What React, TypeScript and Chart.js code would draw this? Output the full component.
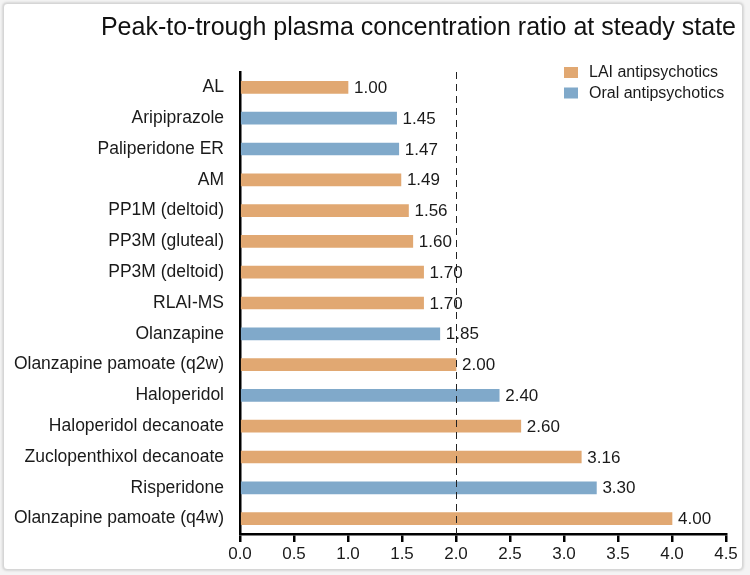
import React, { useEffect, useRef } from "react";
import { Chart, registerables } from "chart.js";

Chart.register(...registerables);

const TITLE = "Peak-to-trough plasma concentration ratio at steady state";
const categories = [
  "AL",
  "Aripiprazole",
  "Paliperidone ER",
  "AM",
  "PP1M (deltoid)",
  "PP3M (gluteal)",
  "PP3M (deltoid)",
  "RLAI-MS",
  "Olanzapine",
  "Olanzapine pamoate (q2w)",
  "Haloperidol",
  "Haloperidol decanoate",
  "Zuclopenthixol decanoate",
  "Risperidone",
  "Olanzapine pamoate (q4w)",
];
const values = [1.0, 1.45, 1.47, 1.49, 1.56, 1.6, 1.7, 1.7, 1.85, 2.0, 2.4, 2.6, 3.16, 3.3, 4.0];
const types = ["LAI", "Oral", "Oral", "LAI", "LAI", "LAI", "LAI", "LAI", "Oral", "LAI", "Oral", "LAI", "LAI", "Oral", "LAI"];
const seriesNames = ["LAI antipsychotics", "Oral antipsychotics"];
const seriesKeys = ["LAI", "Oral"];
const xTicks = [0, 0.5, 1, 1.5, 2, 2.5, 3, 3.5, 4, 4.5];
const referenceLine = 2.0;

const COLORS = ["#E1A872", "#80A9CA"];
const FONT = "'Liberation Sans', Arial, sans-serif";

export default function App() {
  const ref = useRef<HTMLCanvasElement | null>(null);

  useEffect(() => {
    document.body.style.margin = "0";
    const canvas = ref.current;
    if (!canvas) return;

    const overlay = {
      id: "overlay",
      afterDatasetsDraw(chart: any) {
        const ctx = chart.ctx;
        const xs = chart.scales.x;
        const ys = chart.scales.y;
        const area = chart.chartArea;
        ctx.save();
        // reference dashed line
        const xr = xs.getPixelForValue(referenceLine);
        ctx.strokeStyle = "#222";
        ctx.lineWidth = 1;
        ctx.setLineDash([7, 5]);
        ctx.beginPath();
        ctx.moveTo(Math.round(xr) + 0.5, area.top);
        ctx.lineTo(Math.round(xr) + 0.5, area.bottom);
        ctx.stroke();
        ctx.setLineDash([]);
        // value labels
        ctx.fillStyle = "#1a1a1a";
        ctx.font = `17px ${FONT}`;
        ctx.textAlign = "left";
        ctx.textBaseline = "middle";
        values.forEach((v, i) => {
          const px = xs.getPixelForValue(v);
          const py = ys.getPixelForValue(i);
          ctx.fillText(v.toFixed(2), px + 6, py + 1);
        });
        // legend
        ctx.font = `16px ${FONT}`;
        seriesNames.forEach((name, k) => {
          const y = 72 + k * 20.5;
          ctx.fillStyle = COLORS[k];
          ctx.fillRect(564, y - 5, 14, 11);
          ctx.fillStyle = "#1a1a1a";
          ctx.fillText(name, 589, y + 1);
        });
        // title
        ctx.font = `25px ${FONT}`;
        ctx.textAlign = "right";
        ctx.fillStyle = "#111";
        ctx.fillText(TITLE, 736, 28);
        ctx.restore();
      },
    };

    const chart = new Chart(canvas, {
      type: "bar",
      data: {
        labels: categories,
        datasets: seriesKeys.map((key, k) => ({
          label: seriesNames[k],
          data: values.map((v, i) => (types[i] === key ? v : null)),
          backgroundColor: COLORS[k],
          barThickness: 12,
        })),
      },
      options: {
        indexAxis: "y",
        animation: false,
        responsive: false,
        maintainAspectRatio: false,
        layout: { padding: { top: 72, right: 24, left: 0, bottom: 0 } },
        plugins: {
          legend: { display: false },
          title: { display: false },
          tooltip: { enabled: false },
        },
        scales: {
          x: {
            type: "linear",
            min: 0,
            max: 4.5,
            stacked: true,
            afterBuildTicks(scale: any) {
              scale.ticks = xTicks.map((v) => ({ value: v }));
            },
            afterFit(scale: any) {
              scale.height = 41;
            },
            grid: {
              display: true,
              drawOnChartArea: false,
              drawTicks: true,
              tickLength: 8,
              color: "#000",
              lineWidth: 2.5,
            },
            border: { display: true, color: "#000", width: 2.5 },
            ticks: {
              color: "#1a1a1a",
              font: { family: FONT, size: 17 },
              padding: 2,
              maxRotation: 0,
              callback: (v: any) => Number(v).toFixed(1),
            },
          },
          y: {
            stacked: true,
            afterFit(scale: any) {
              scale.width = 240;
            },
            grid: { display: false, drawTicks: false },
            border: { display: true, color: "#000", width: 2.5 },
            ticks: {
              color: "#1a1a1a",
              font: { family: FONT, size: 17.5 },
              padding: 16,
            },
          },
        },
      },
      plugins: [overlay],
    });

    return () => chart.destroy();
  }, []);

  return (
    <div style={{ position: "relative", width: 750, height: 575, background: "#f4f4f4" }}>
      <div
        style={{
          position: "absolute",
          left: 3,
          top: 3,
          width: 738,
          height: 565,
          background: "#fff",
          border: "1px solid #d6d6d6",
          borderRadius: 4,
          boxShadow: "0 0 3px rgba(0,0,0,0.25)",
        }}
      />
      <canvas ref={ref} width={750} height={575} style={{ position: "absolute", left: 0, top: 0 }} />
    </div>
  );
}
